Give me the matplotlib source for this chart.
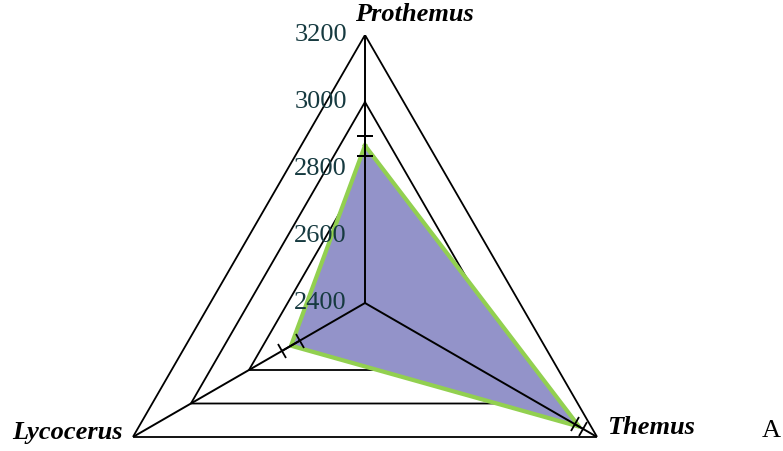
import numpy as np
import matplotlib
matplotlib.use("Agg")
import matplotlib.pyplot as plt
from matplotlib.markers import MarkerStyle
from matplotlib.transforms import Affine2D

# data
species = ["Prothemus", "Lycocerus", "Themus"]
angles_deg = [90, 210, 330]
means = [2870, 2655, 3138]
errors = [30, 30, 14]
levels = [2400, 2600, 2800, 3000, 3200]

FILL = "#9393c9"
EDGE = "#92d050"
TICK_TXT = "#163a40"

plt.rcParams["font.family"] = ["Liberation Serif", "DejaVu Serif"]

fig = plt.figure(figsize=(7.83, 4.51), dpi=100)
cx, cy, R = 365, 303, 268
W, H = 783, 451
ax = fig.add_axes([(cx - R) / W, (H - cy - R) / H, 2 * R / W, 2 * R / H],
                  projection="polar")
ax.set_rlim(levels[0], levels[-1])
ax.set_axis_off()

th = np.deg2rad(angles_deg)
th_closed = np.append(th, th[0])

# triangular grid
for lv in levels[1:]:
    ax.plot(th_closed, [lv] * 4, color="black", lw=1.3, zorder=1)

# data polygon
m_closed = means + means[:1]
ax.fill(th_closed, m_closed, facecolor=FILL, edgecolor="none", zorder=2)
ax.plot(th_closed, m_closed, color=EDGE, lw=3, zorder=3)

# axes lines
for t in th:
    ax.plot([t, t], [levels[0], levels[-1]], color="black", lw=1.4, zorder=4)

# error bars with caps perpendicular to each axis
for t, a, m, e in zip(th, angles_deg, means, errors):
    ax.plot([t, t], [m - e, m + e], color="black", lw=1.4, zorder=5)
    cap = MarkerStyle("_", transform=Affine2D().rotate_deg(a + 90))
    ax.plot([t, t], [m - e, m + e], ls="none", marker=cap, ms=12,
            mew=1.3, color="black", zorder=5)

# radial tick labels
for lv in levels:
    ax.annotate(str(lv), xy=(np.pi / 2, lv), xytext=(-13, 0),
                textcoords="offset points", ha="right", va="center",
                fontsize=19, color=TICK_TXT, zorder=6)

# category labels
offsets = [(-7, 15), (-7, 3), (7, 6.5)]
aligns = ["left", "right", "left"]
for t, name, off, al in zip(th, species, offsets, aligns):
    ax.annotate(name, xy=(t, levels[-1]), xytext=off,
                textcoords="offset points", ha=al, va="center",
                fontsize=19, fontstyle="italic", fontweight="bold",
                annotation_clip=False)

fig.text(771 / W, 1 - 431 / H, "A", ha="center", va="center", fontsize=19)

fig.savefig("out.png", dpi=100)
